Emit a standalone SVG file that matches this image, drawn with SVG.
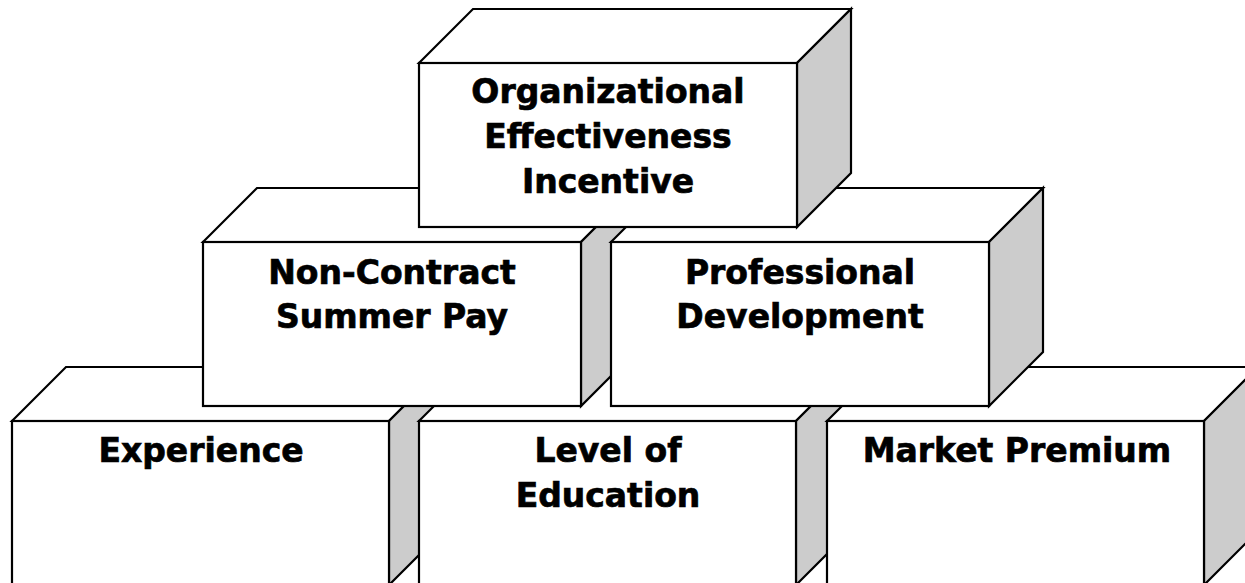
<svg xmlns="http://www.w3.org/2000/svg" width="1245" height="583" viewBox="0 0 1245 583">
  <style>
    .front { fill: #ffffff; stroke: #000000; stroke-width: 2.2; stroke-linejoin: miter; }
    .top { fill: #ffffff; stroke: #000000; stroke-width: 2.2; stroke-linejoin: miter; }
    .side { fill: #cccccc; stroke: #000000; stroke-width: 2.2; stroke-linejoin: miter; }
    .label { font-family: "DejaVu Sans", Verdana, sans-serif; font-weight: bold; font-size: 33px; fill: #000000; stroke: #000000; stroke-width: 0.7; text-anchor: middle; }
  </style>
  <rect width="1245" height="583" fill="#ffffff"/>

  <!-- bottom row -->
  <g id="experience">
    <polygon class="top" points="12,421 66,367 443,367 389,421"/>
    <polygon class="side" points="389,421 443,367 443,531 389,585"/>
    <rect class="front" x="12" y="421" width="377" height="164"/>
    <text class="label" x="201" y="462">Experience</text>
  </g>
  <g id="level-of-education">
    <polygon class="top" points="419,421 473,367 850,367 796,421"/>
    <polygon class="side" points="796,421 850,367 850,531 796,585"/>
    <rect class="front" x="419" y="421" width="377" height="164"/>
    <text class="label" x="608" y="462">Level of</text>
    <text class="label" x="608" y="507">Education</text>
  </g>
  <g id="market-premium">
    <polygon class="top" points="827,421 881,367 1258,367 1204,421"/>
    <polygon class="side" points="1204,421 1258,367 1258,531 1204,585"/>
    <rect class="front" x="827" y="421" width="377" height="164"/>
    <text class="label" x="1017" y="462">Market Premium</text>
  </g>

  <!-- middle row -->
  <g id="non-contract-summer-pay">
    <polygon class="top" points="203,242 257,188 635,188 581,242"/>
    <polygon class="side" points="581,242 635,188 635,352 581,406"/>
    <rect class="front" x="203" y="242" width="378" height="164"/>
    <text class="label" x="392" y="284">Non-Contract</text>
    <text class="label" x="392" y="328">Summer Pay</text>
  </g>
  <g id="professional-development">
    <polygon class="top" points="611,242 665,188 1043,188 989,242"/>
    <polygon class="side" points="989,242 1043,188 1043,352 989,406"/>
    <rect class="front" x="611" y="242" width="378" height="164"/>
    <text class="label" x="800" y="284">Professional</text>
    <text class="label" x="800" y="328">Development</text>
  </g>

  <!-- top row -->
  <g id="organizational-effectiveness-incentive">
    <polygon class="top" points="419,63 473,9 851,9 797,63"/>
    <polygon class="side" points="797,63 851,9 851,173 797,227"/>
    <rect class="front" x="419" y="63" width="378" height="164"/>
    <text class="label" x="608" y="103">Organizational</text>
    <text class="label" x="608" y="148">Effectiveness</text>
    <text class="label" x="608" y="193">Incentive</text>
  </g>

  <g id="connectors"/>
</svg>
